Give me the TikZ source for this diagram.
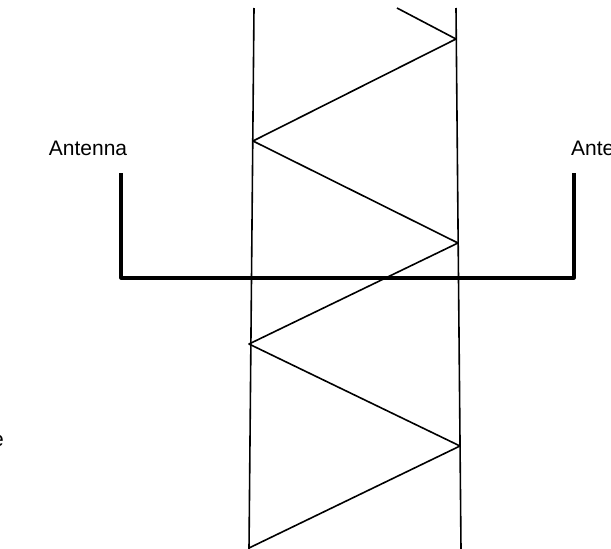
\documentclass[tikz,border=0pt]{standalone}
\usepackage{fontspec}
\setmainfont{Liberation Sans}
\usetikzlibrary{calc}

\begin{document}
\begin{tikzpicture}[x=1pt, y=-1pt, line join=round]
            \useasboundingbox (0,0) rectangle (611,549);
            \tikzset{lbl/.style={inner sep=0pt, font=\fontsize{21}{25}\selectfont}}

            % the two guide lines
            \coordinate (lt) at (254,8);
            \coordinate (lb) at (249,549);
            \coordinate (rt) at (456,8);
            \coordinate (rb) at (461,549);
            \draw [line width=1.6] (lt) -- (lb);
            \draw [line width=1.6] (rt) -- (rb);

            % zigzag
            \coordinate (z0) at (397,8);
            \coordinate (z1) at (456,39);
            \coordinate (z2) at (253,141);
            \coordinate (z3) at (458,243);
            \coordinate (z4) at (249,344);
            \coordinate (z5) at (460,446);
            \coordinate (z6) at (249,548);
            \draw [line width=1.6] (z0) -- (z1) -- (z2) -- (z3) -- (z4) -- (z5) -- (z6);

            % antenna bracket
            \coordinate (al) at (121,173);
            \coordinate (ar) at (574,173);
            \draw [line width=3.2] (al) |- (574,278) -- (ar);

            \node [lbl, anchor=base] (antl) at (88,155) {Antenna};
            \node [lbl, anchor=base west] (antr) at (571,155) {Antenna};
            \node [lbl, anchor=base east] (lft) at (4,446) {e};
        \end{tikzpicture}
\end{document}
